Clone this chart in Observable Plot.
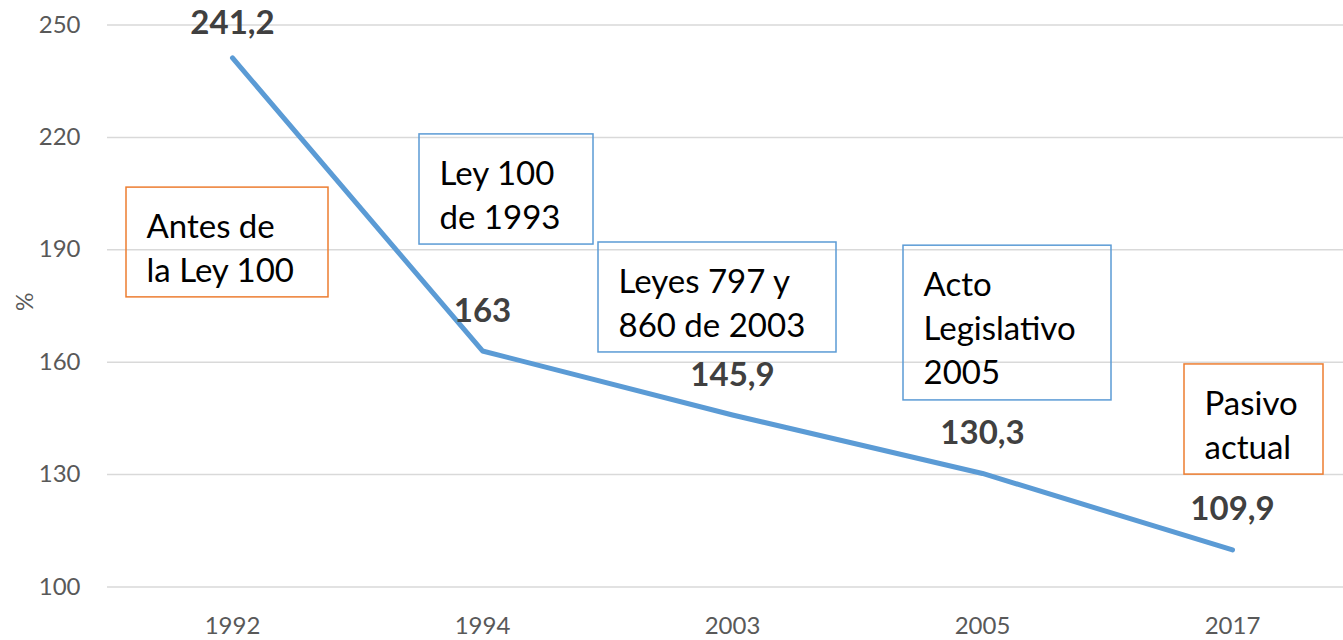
<!DOCTYPE html>
<html>
<head>
<meta charset="utf-8">
<script src="https://cdn.jsdelivr.net/npm/d3@7"></script>
<script src="https://cdn.jsdelivr.net/npm/@observablehq/plot@0.6"></script>
<style>
  html, body { margin: 0; padding: 0; background: #fff; }
  #chart svg { display: block; }
</style>
</head>
<body>
<div id="chart"></div>
<script>
// Data
const years = ["1992", "1994", "2003", "2005", "2017"];
const values = [241.2, 163, 145.9, 130.3, 109.9];
const valueLabels = ["241,2", "163", "145,9", "130,3", "109,9"];
const yTicks = [100, 130, 160, 190, 220, 250];

// Annotation boxes (in data units: x = category index, y = %)
const boxTexts = ["Antes de\nla Ley 100", "Ley 100\nde 1993", "Leyes 797 y\n860 de 2003", "Acto\nLegislativo\n2005", "Pasivo\nactual"];
const boxX1 = [-0.424, 0.748, 1.464, 2.684, 3.808];
const boxX2 = [0.384, 1.444, 2.416, 3.516, 4.364];
const boxYTop = [206.6, 220.8, 191.95, 191.1, 159.4];
const boxYBottom = [177.3, 191.4, 162.6, 149.8, 130.0];
const boxColors = ["#ED7D31", "#5B9BD5", "#5B9BD5", "#5B9BD5", "#ED7D31"];

const points = years.map((yr, i) => ({i, year: yr, value: values[i], label: valueLabels[i]}));
const boxes = boxTexts.map((t, k) => ({text: t, x1: boxX1[k], x2: boxX2[k], y1: boxYBottom[k], y2: boxYTop[k], color: boxColors[k]}));

const font = "Lato, 'Open Sans', sans-serif";

const chart = Plot.plot({
  width: 1343,
  height: 640,
  marginLeft: 107,
  marginRight: 0,
  marginTop: 24.5,
  marginBottom: 53.5,
  style: {fontFamily: font, background: "#fff", overflow: "visible"},
  x: {type: "linear", domain: [-0.5, 4.444], range: [107, 1343], axis: null},
  y: {domain: [100, 250], range: [586.5, 24.5], axis: null},
  marks: [
    Plot.ruleY(yTicks, {stroke: "#d9d9d9", strokeWidth: 1.5}),
    // y tick labels
    Plot.text(yTicks, {x: -0.5, y: d => d, text: d => String(d), textAnchor: "end", dx: -27, fontSize: 24, fill: "#595959"}),
    // x tick labels
    Plot.text(points, {x: "i", y: 100, text: "year", dy: 39, fontSize: 24, fill: "#595959"}),
    // y axis title
    Plot.text(["%"], {frameAnchor: "left", dx: -82, dy: 5, rotate: -90, text: d => d, fontSize: 23, fill: "#595959"}),
    // boxes
    Plot.rect(boxes, {x1: "x1", x2: "x2", y1: "y1", y2: "y2", fill: "none", stroke: "color", strokeWidth: 1.5}),
    Plot.text(boxes, {x: "x1", y: "y2", text: "text", textAnchor: "start", lineAnchor: "top", dx: 20, dy: 19, fontSize: 33, lineHeight: 1.333, fill: "#000"}),
    // line
    Plot.line(points, {x: "i", y: "value", stroke: "#5B9BD5", strokeWidth: 5, strokeLinecap: "round", strokeLinejoin: "round"}),
    // value labels
    Plot.text(points.filter(d => d.i === 0), {x: "i", y: "value", text: "label", dy: -35, fontSize: 33, fontWeight: "bold", fill: "#404040"}),
    Plot.text(points.filter(d => d.i > 0), {x: "i", y: "value", text: "label", dy: -40, fontSize: 33, fontWeight: "bold", fill: "#404040"})
  ]
});
document.getElementById("chart").appendChild(chart);
</script>
</body>
</html>
